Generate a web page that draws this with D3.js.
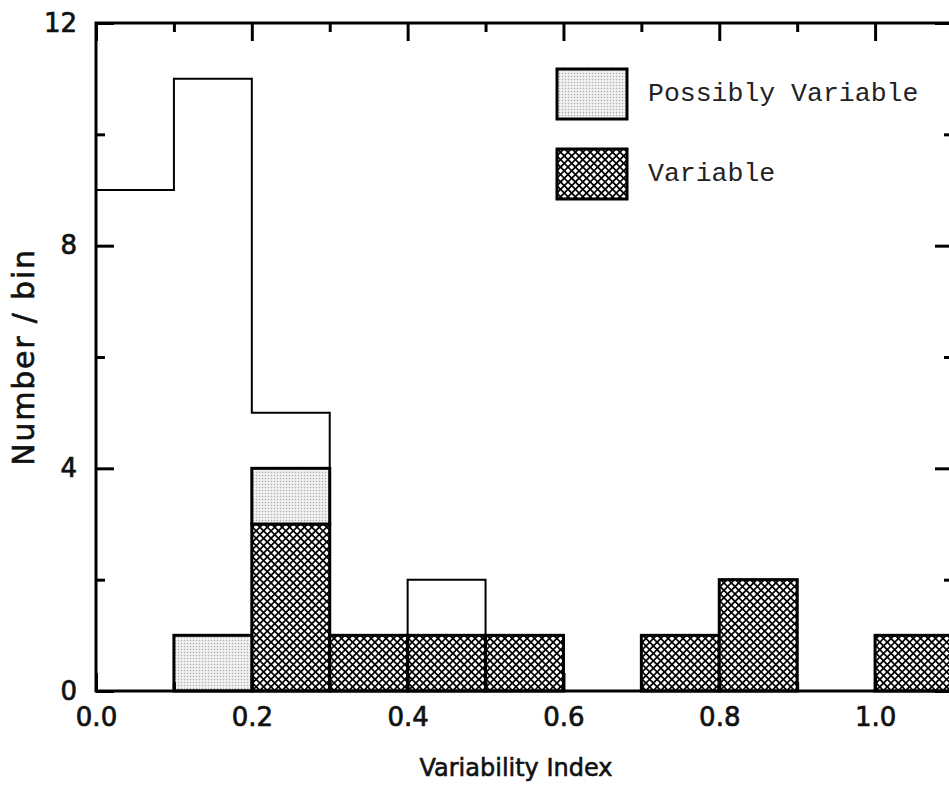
<!DOCTYPE html>
<html>
<head>
<meta charset="utf-8">
<script src="https://cdn.jsdelivr.net/npm/d3@7"></script>
<style>
  html, body { margin: 0; padding: 0; background: #fff; }
  svg { display: block; }
  .tick text { font-family: "DejaVu Sans", sans-serif; font-size: 26px; fill: #111; stroke: #111; stroke-width: 0.7px; }
  .title { font-family: "DejaVu Sans", sans-serif; fill: #111; stroke: #111; stroke-width: 0.6px; }
</style>
</head>
<body>
<svg id="chart" width="949" height="785"></svg>
<script>
// Histogram of the variability index, 0.1-wide bins
const binStarts = [0.0, 0.1, 0.2, 0.3, 0.4, 0.5, 0.6, 0.7, 0.8, 0.9, 1.0];
const binWidth = 0.1;
const totalCounts    = [9, 11, 5, 1, 2, 1, 0, 1, 2, 0, 1];
const variableCounts = [0, 0, 3, 1, 1, 1, 0, 1, 2, 0, 1];
const possibleCounts = [0, 1, 1, 0, 0, 0, 0, 0, 0, 0, 0];

const xMajorTicks = [0.0, 0.2, 0.4, 0.6, 0.8, 1.0];
const xMinorTicks = [0.1, 0.3, 0.5, 0.7, 0.9];
const yMajorTicks = [0, 4, 8, 12];
const yMinorTicks = [2, 6, 10];

const legendLabels = ["Possibly Variable", "Variable"];
const xTitle = "Variability Index";
const yTitle = "Number / bin";

const svg = d3.select("#chart");

const x = d3.scaleLinear().domain([0, 1.1]).range([96, 953]);
const y = d3.scaleLinear().domain([0, 12]).range([691, 23]);

// Fill patterns: fine grey stipple and a diagonal cross-hatch
const defs = svg.append("defs");
const stip = defs.append("pattern").attr("id", "stipple")
  .attr("patternUnits", "userSpaceOnUse").attr("width", 3).attr("height", 3);
stip.append("rect").attr("width", 3).attr("height", 3).attr("fill", "#f1f1f1");
stip.append("circle").attr("cx", 1.5).attr("cy", 1.5).attr("r", 0.75).attr("fill", "#a8a8a8");

const s = 5.25, w = 1.7;
const hatch = defs.append("pattern").attr("id", "hatch")
  .attr("patternUnits", "userSpaceOnUse").attr("width", s).attr("height", s)
  .attr("patternTransform", "rotate(45)");
hatch.append("rect").attr("width", s).attr("height", s).attr("fill", "#000");
hatch.append("rect").attr("x", w / 2).attr("y", w / 2)
  .attr("width", s - w).attr("height", s - w).attr("fill", "#fff");

// Outline of all sources as a step line
const stepPts = [[0, 0]];
binStarts.forEach((b, i) => stepPts.push([b, totalCounts[i]]));
stepPts.push([binStarts[binStarts.length - 1] + binWidth, totalCounts[totalCounts.length - 1]]);
stepPts.push([binStarts[binStarts.length - 1] + binWidth, 0]);
svg.append("path")
  .attr("d", d3.line().x(d => x(d[0])).y(d => y(d[1])).curve(d3.curveStepAfter)(stepPts))
  .attr("fill", "none").attr("stroke", "#000").attr("stroke-width", 2);

// Variable sources (cross-hatched), stacked with possibly variable (stippled)
const bins = binStarts.map((b, i) => ({ x0: b, v: variableCounts[i], p: possibleCounts[i] }));
svg.append("g").selectAll("rect").data(bins.filter(d => d.v > 0)).join("rect")
  .attr("x", d => x(d.x0)).attr("width", d => x(d.x0 + binWidth) - x(d.x0))
  .attr("y", d => y(d.v)).attr("height", d => y(0) - y(d.v))
  .attr("fill", "url(#hatch)").attr("stroke", "#000").attr("stroke-width", 3);
svg.append("g").selectAll("rect").data(bins.filter(d => d.p > 0)).join("rect")
  .attr("x", d => x(d.x0)).attr("width", d => x(d.x0 + binWidth) - x(d.x0))
  .attr("y", d => y(d.v + d.p)).attr("height", d => y(d.v) - y(d.v + d.p))
  .attr("fill", "url(#stipple)").attr("stroke", "#000").attr("stroke-width", 3);

// Axes with inward ticks on all four sides
function styleAxis(g) {
  g.select(".domain").remove();
  g.selectAll(".tick line").attr("stroke", "#000").attr("stroke-width", 3);
}
svg.append("g").attr("transform", `translate(0,${y(0)})`)
  .call(d3.axisBottom(x).tickValues(xMajorTicks).tickSize(-18).tickPadding(17).tickFormat(d3.format(".1f")))
  .call(styleAxis);
svg.append("g").attr("transform", `translate(0,${y(0)})`)
  .call(d3.axisBottom(x).tickValues(xMinorTicks).tickSize(-9).tickFormat(""))
  .call(styleAxis);
svg.append("g").attr("transform", `translate(0,${y(12)})`)
  .call(d3.axisTop(x).tickValues(xMajorTicks).tickSize(-18).tickFormat(""))
  .call(styleAxis);
svg.append("g").attr("transform", `translate(0,${y(12)})`)
  .call(d3.axisTop(x).tickValues(xMinorTicks).tickSize(-9).tickFormat(""))
  .call(styleAxis);
svg.append("g").attr("transform", `translate(${x(0)},0)`)
  .call(d3.axisLeft(y).tickValues(yMajorTicks).tickSize(-18).tickPadding(19))
  .call(styleAxis);
svg.append("g").attr("transform", `translate(${x(0)},0)`)
  .call(d3.axisLeft(y).tickValues(yMinorTicks).tickSize(-9).tickFormat(""))
  .call(styleAxis);
svg.append("g").attr("transform", `translate(${x(1.1)},0)`)
  .call(d3.axisRight(y).tickValues(yMajorTicks).tickSize(-18).tickFormat(""))
  .call(styleAxis);
svg.append("g").attr("transform", `translate(${x(1.1)},0)`)
  .call(d3.axisRight(y).tickValues(yMinorTicks).tickSize(-9).tickFormat(""))
  .call(styleAxis);

// Frame
svg.append("rect")
  .attr("x", x(0)).attr("y", y(12))
  .attr("width", x(1.1) - x(0)).attr("height", y(0) - y(12))
  .attr("fill", "none").attr("stroke", "#000").attr("stroke-width", 3);

// Axis titles
svg.append("text").attr("class", "title").attr("x", 516).attr("y", 776)
  .attr("text-anchor", "middle")
  .style("font-size", "24px")
  .text(xTitle);
svg.append("text").attr("class", "title")
  .attr("transform", "translate(34,357) rotate(-90)")
  .attr("text-anchor", "middle")
  .style("font-size", "30px")
  .style("letter-spacing", "1.8px")
  .text(yTitle);

// Legend
const legend = svg.append("g");
const legendFills = ["url(#stipple)", "url(#hatch)"];
legendLabels.forEach((lab, i) => {
  const top = 69 + i * 80;
  legend.append("rect").attr("x", 557).attr("y", top).attr("width", 70).attr("height", 50)
    .attr("fill", legendFills[i]).attr("stroke", "#000").attr("stroke-width", 3);
  legend.append("text").attr("x", 648).attr("y", top + 32)
    .style("font-family", "'Courier New', 'Liberation Mono', monospace").style("font-size", "26.5px")
    .attr("fill", "#222").text(lab);
});
</script>
</body>
</html>
